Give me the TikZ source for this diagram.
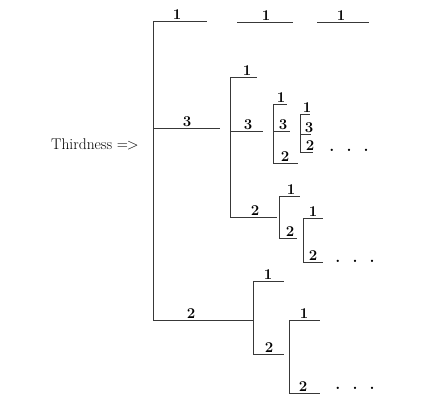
\documentclass[tikz,border=0pt]{standalone}
\begin{document}
\begin{tikzpicture}[x=1pt,y=-1pt,
  br/.style={line width=1pt,color=black!78},
  lab/.style={anchor=base,inner sep=0pt,font=\fontsize{15}{17}\selectfont\bfseries},
  dotsl/.style={anchor=base,inner sep=0pt,font=\fontsize{16}{18}\selectfont\bfseries}]
\useasboundingbox (0,0) rectangle (427,400);
% main trunk
\coordinate (t0) at (153,21);
\coordinate (t1) at (153,128);
\coordinate (t2) at (153,320);
\draw[br] (t0) -- (t2);
% top branch
\coordinate (a1) at (207,21);
\draw[br] (t0) -- (a1);
\node[lab] (la) at (177,19) {1};
\coordinate (b0) at (237,22); \coordinate (b1) at (293,22);
\draw[br] (b0) -- (b1);
\node[lab] (lb) at (266,20) {1};
\coordinate (c0) at (317,22); \coordinate (c1) at (369,22);
\draw[br] (c0) -- (c1);
\node[lab] (lc) at (341,20) {1};
% middle branch
\coordinate (m1) at (220,128);
\draw[br] (t1) -- (m1);
\node[lab] (lm) at (187,126) {3};
% V1
\coordinate (v1a) at (230,77); \coordinate (v1b) at (230,131); \coordinate (v1c) at (230,217);
\draw[br] (v1a) -- (v1c);
\coordinate (v1ae) at (257,77); \draw[br] (v1a) -- (v1ae);
\node[lab] (l1a) at (247,75) {1};
\coordinate (v1be) at (263,131); \draw[br] (v1b) -- (v1be);
\node[lab] (l1b) at (248,129) {3};
\coordinate (v1ce) at (277,217); \draw[br] (v1c) -- (v1ce);
\node[lab] (l1c) at (255,215) {2};
% V2
\coordinate (v2a) at (273,104); \coordinate (v2b) at (273,131); \coordinate (v2c) at (273,163);
\draw[br] (v2a) -- (v2c);
\coordinate (v2ae) at (287,104); \draw[br] (v2a) -- (v2ae);
\node[lab] (l2a) at (281,102) {1};
\coordinate (v2be) at (290,131); \draw[br] (v2b) -- (v2be);
\node[lab] (l2b) at (283,129.5) {3};
\coordinate (v2ce) at (298,163); \draw[br] (v2c) -- (v2ce);
\node[lab] (l2c) at (285,161) {2};
% V3
\coordinate (v3a) at (300,114); \coordinate (v3b) at (300,134); \coordinate (v3c) at (300,152);
\draw[br] (v3a) -- (v3c);
\coordinate (v3ae) at (310,114); \draw[br] (v3a) -- (v3ae);
\node[lab] (l3a) at (307,112) {1};
\coordinate (v3be) at (311,134); \draw[br] (v3b) -- (v3be);
\node[lab] (l3b) at (309,132.5) {3};
\coordinate (v3ce) at (313,152); \draw[br] (v3c) -- (v3ce);
\node[lab] (l3c) at (310,150.5) {2};
\node[dotsl] (d1) at (349,151) {.\hspace{12pt}.\hspace{12pt}.};
% V4
\coordinate (v4a) at (279,196); \coordinate (v4c) at (279,238);
\draw[br] (v4a) -- (v4c);
\coordinate (v4ae) at (300,196); \draw[br] (v4a) -- (v4ae);
\node[lab] (l4a) at (291,194) {1};
\coordinate (v4ce) at (297,238); \draw[br] (v4c) -- (v4ce);
\node[lab] (l4c) at (290,236) {2};
% V5
\coordinate (v5a) at (303,218); \coordinate (v5c) at (303,262);
\draw[br] (v5a) -- (v5c);
\coordinate (v5ae) at (323,218); \draw[br] (v5a) -- (v5ae);
\node[lab] (l5a) at (313,216) {1};
\coordinate (v5ce) at (323,262); \draw[br] (v5c) -- (v5ce);
\node[lab] (l5c) at (313,260) {2};
\node[dotsl] (d2) at (355,262) {.\hspace{12pt}.\hspace{12pt}.};
% bottom branch
\coordinate (v6m) at (253,320);
\draw[br] (t2) -- (v6m);
\node[lab] (lbot) at (191,318) {2};
\coordinate (v6a) at (253,281); \coordinate (v6c) at (253,354);
\draw[br] (v6a) -- (v6c);
\coordinate (v6ae) at (284,281); \draw[br] (v6a) -- (v6ae);
\node[lab] (l6a) at (268,279) {1};
\coordinate (v6ce) at (284,354); \draw[br] (v6c) -- (v6ce);
\node[lab] (l6c) at (269,352) {2};
% V7
\coordinate (v7a) at (289,320); \coordinate (v7c) at (289,393);
\draw[br] (v7a) -- (v7c);
\coordinate (v7ae) at (320,320); \draw[br] (v7a) -- (v7ae);
\node[lab] (l7a) at (304,318) {1};
\coordinate (v7ce) at (320,393); \draw[br] (v7c) -- (v7ce);
\node[lab] (l7c) at (303,391) {2};
\node[dotsl] (d3) at (355,389) {.\hspace{12pt}.\hspace{12pt}.};
% label
\node[anchor=base west,inner sep=0pt,font=\fontsize{15.5}{18}\selectfont] (third) at (51,149) {Thirdness =\kern-1pt>};
\end{tikzpicture}
\end{document}
